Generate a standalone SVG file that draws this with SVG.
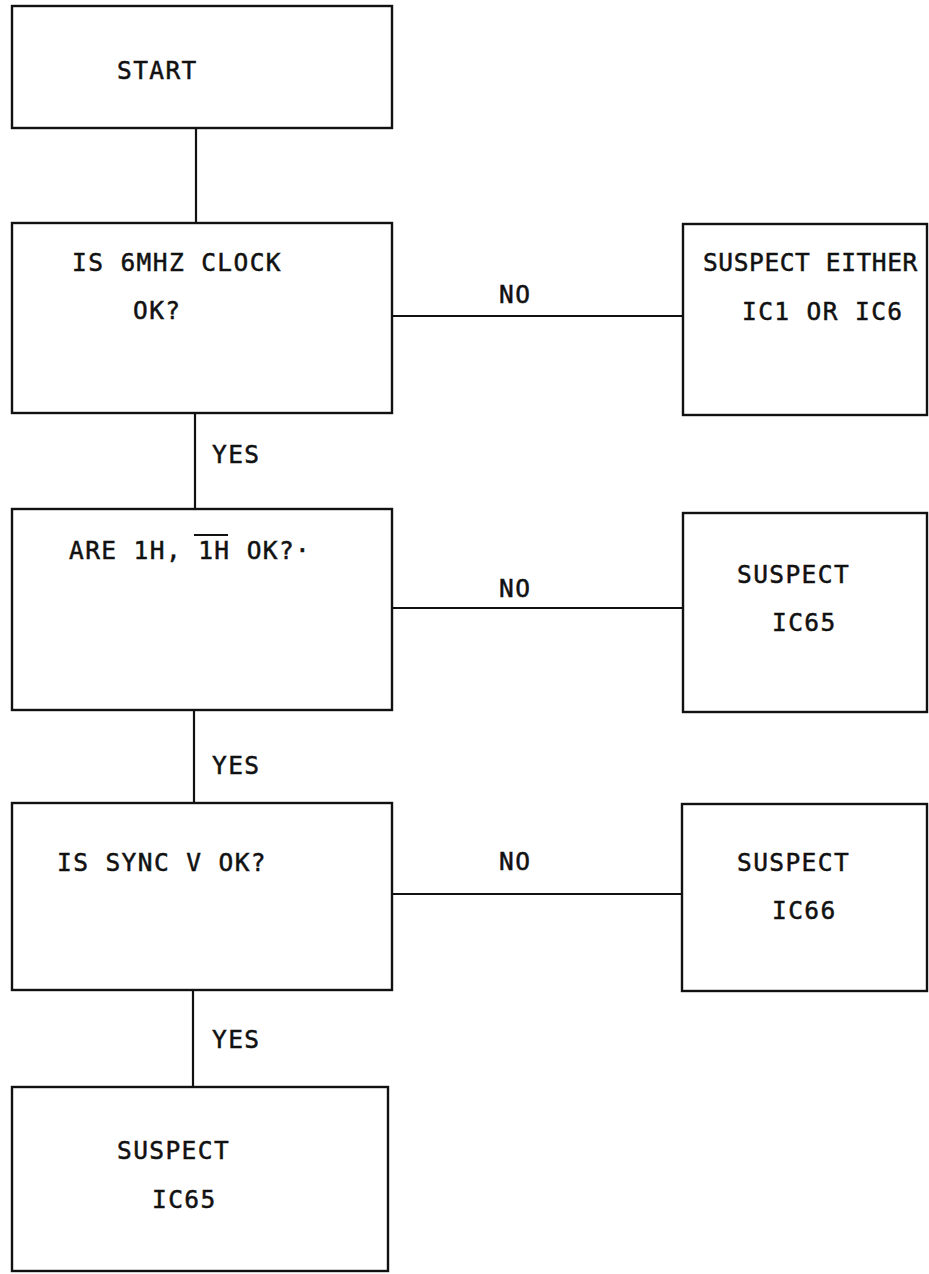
<svg xmlns="http://www.w3.org/2000/svg" width="929" height="1274" viewBox="0 0 929 1274">
<style>
.box{fill:none;stroke:#111;stroke-width:2.4}
.con line{stroke:#111;stroke-width:2.2}
text{font-family:"DejaVu Sans Mono","Liberation Mono",monospace;font-size:24.5px;letter-spacing:1.4px;fill:#111;stroke:#111;stroke-width:0.5}
</style>
<rect width="929" height="1274" fill="#fff"/>
<g class="con">
<line x1="196" y1="128" x2="196" y2="223"/>
<line x1="195" y1="413" x2="195" y2="509"/>
<line x1="194" y1="710" x2="194" y2="803"/>
<line x1="193" y1="990" x2="193" y2="1087"/>
<line x1="392" y1="316" x2="683" y2="316"/>
<line x1="392" y1="608" x2="683" y2="608"/>
<line x1="392" y1="894" x2="682" y2="894"/>
<text x="212" y="463">YES</text>
<text x="212" y="774">YES</text>
<text x="212" y="1048">YES</text>
<text x="499" y="303">NO</text>
<text x="499" y="597">NO</text>
<text x="499" y="870">NO</text>
</g>
<g id="start"><rect class="box" x="12" y="6" width="380" height="122"/><text x="117" y="79">START</text></g>
<g id="q-clock"><rect class="box" x="12" y="223" width="380" height="190"/><text x="72" y="271">IS 6MHZ CLOCK</text><text x="133" y="319">OK?</text></g>
<g id="q-1h"><rect class="box" x="12" y="509" width="380" height="201"/><text x="69" y="559">ARE 1H, 1H OK?·</text><line x1="194" y1="535" x2="228" y2="535" stroke="#111" stroke-width="2.2"/></g>
<g id="q-sync"><rect class="box" x="12" y="803" width="380" height="187"/><text x="57" y="871">IS SYNC V OK?</text></g>
<g id="end-ic65"><rect class="box" x="12" y="1087" width="376" height="184"/><text x="117" y="1159">SUSPECT</text><text x="152" y="1208">IC65</text></g>
<g id="r-ic1-ic6"><rect class="box" x="683" y="224" width="244" height="191"/><text x="703" y="271" style="letter-spacing:0.6px">SUSPECT EITHER</text><text x="742" y="320">IC1 OR IC6</text></g>
<g id="r-ic65"><rect class="box" x="683" y="513" width="244" height="199"/><text x="737" y="583">SUSPECT</text><text x="772" y="631">IC65</text></g>
<g id="r-ic66"><rect class="box" x="682" y="804" width="245" height="187"/><text x="737" y="871">SUSPECT</text><text x="772" y="919">IC66</text></g>
</svg>
